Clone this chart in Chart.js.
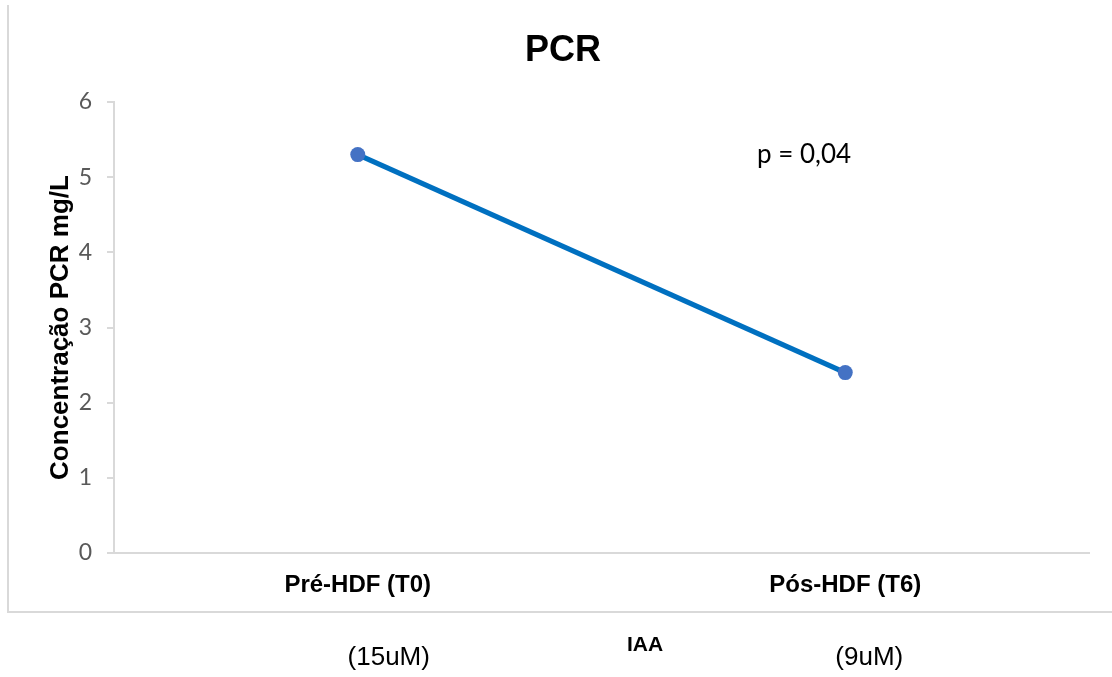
<!DOCTYPE html>
<html>
<head>
<meta charset="utf-8">
<script src="https://cdn.jsdelivr.net/npm/chart.js@4.4.1/dist/chart.umd.min.js"></script>
<style>
  html, body { margin: 0; padding: 0; background: #fff; }
  #wrap { width: 1112px; height: 677px; }
</style>
</head>
<body>
<div id="wrap"><canvas id="pcrChart" width="1112" height="677"></canvas></div>
<script>
"use strict";

// dados do gráfico
const categorias = ["Pré-HDF (T0)", "Pós-HDF (T6)"];
const subLegendas = ["(15uM)", "(9uM)"];
const valoresPCR = [5.3, 2.4];
const yTicks = [0, 1, 2, 3, 4, 5, 6];
const tituloGrafico = "PCR";
const tituloEixoY = "Concentração PCR mg/L";
const tituloEixoX = "IAA";
const anotacaoP = "p = 0,04";

const cinza = "#d9d9d9";

// moldura, título e textos extra
const extras = {
    id: "extras",
    beforeDraw(chart) {
        const c = chart.ctx;
        c.save();
        c.strokeStyle = cinza;
        c.lineWidth = 2;
        c.beginPath();
        c.moveTo(8, 5);
        c.lineTo(8, 612);
        c.lineTo(1112, 612);
        c.stroke();
        c.restore();
    },
    afterDraw(chart) {
        const c = chart.ctx;
        const x = chart.scales.x;
        const y = chart.scales.y;
        c.save();
        c.fillStyle = "#000";
        c.textAlign = "center";
        c.textBaseline = "middle";

        c.font = "bold 36px 'Liberation Sans', Arial, sans-serif";
        c.fillText(tituloGrafico, 563, 51);

        c.font = "26px Lato, sans-serif";
        c.textAlign = "left";
        c.fillText(anotacaoP, 757, 155);

        c.textAlign = "center";
        c.font = "bold 21px 'Liberation Sans', Arial, sans-serif";
        c.fillText(tituloEixoX, 645, 645);

        c.font = "26px 'Liberation Sans', Arial, sans-serif";
        subLegendas.forEach((s, i) => {
            const px = x.getPixelForValue(i);
            c.fillText(s, px + [31, 24][i], 658);
        });
        c.restore();
    }
};

const ctx = document.getElementById("pcrChart").getContext("2d");
new Chart(ctx, {
    type: "line",
    data: {
        labels: categorias,
        datasets: [{
            data: valoresPCR,
            borderColor: "#0070c0",
            borderWidth: 5,
            pointRadius: 7.5,
            pointBackgroundColor: "#4472c4",
            pointBorderColor: "#4472c4",
            pointBorderWidth: 0,
            tension: 0
        }]
    },
    options: {
        responsive: false,
        animation: false,
        events: [],
        layout: { padding: { top: 102, right: 23, left: 0, bottom: 0 } },
        plugins: {
            legend: { display: false },
            tooltip: { enabled: false },
            title: { display: false }
        },
        scales: {
            x: {
                offset: true,
                grid: { display: false, drawTicks: false },
                border: { display: true, color: cinza, width: 2 },
                ticks: {
                    color: "#000",
                    padding: 18,
                    font: { family: "'Liberation Sans', Arial, sans-serif", size: 24, weight: "bold" }
                },
                afterFit(scale) { scale.height = 124; }
            },
            y: {
                min: 0,
                max: 6,
                afterBuildTicks(scale) { scale.ticks = yTicks.map(v => ({ value: v })); },
                grid: {
                    display: true,
                    drawOnChartArea: false,
                    drawTicks: true,
                    tickLength: 7,
                    color: cinza,
                    lineWidth: 2
                },
                border: { display: true, color: cinza, width: 2 },
                ticks: {
                    color: "#595959",
                    padding: 15,
                    font: { family: "Lato, sans-serif", size: 23 }
                },
                title: {
                    display: true,
                    text: tituloEixoY,
                    color: "#000",
                    padding: { top: 45, bottom: 0 },
                    font: { family: "'Liberation Sans', Arial, sans-serif", size: 26, weight: "bold" }
                },
                afterFit(scale) { scale.width = 114; }
            }
        }
    },
    plugins: [extras]
});
</script>
</body>
</html>
